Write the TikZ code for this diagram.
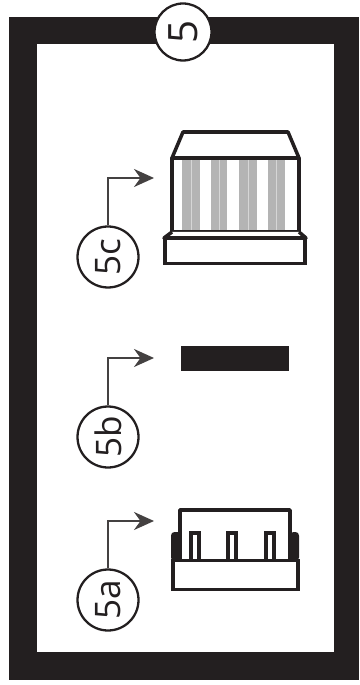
\documentclass[tikz,border=0pt]{standalone}
\usepackage{fontspec}
\setmainfont{Open Sans}
\usepackage{xcolor}
\usetikzlibrary{arrows.meta, positioning}
\definecolor{frameblack}{HTML}{231F20}
\definecolor{ribgray}{HTML}{B4B4B4}

\begin{document}
\begin{tikzpicture}[
  x=0.02cm, y=-0.02cm,
  callout/.style={circle, draw=frameblack, line width=1.3pt, fill=white, minimum size=1.22cm, inner sep=0pt, rotate=90, font=\fontsize{20}{20}\selectfont, text=frameblack},
  leader/.style={draw=frameblack!85, line width=1.2pt, -{Stealth[length=4mm, width=3.6mm]}},
  partline/.style={draw=frameblack, line width=2pt, fill=white, line join=round},
  rib/.style={fill=ribgray, draw=none},
  pin/.style={draw=frameblack, line width=2.1pt, fill=white},
]
\useasboundingbox (0,0) rectangle (359,685);

% Outer frame
\fill[frameblack] (9,17) rectangle (359,680);
\fill[white] (37,44) rectangle (334,652);
\node[callout, minimum size=1.14cm, font=\fontsize{23}{23}\selectfont] (main) at (183,32) {5};

% Part 5c
\draw[partline] (172,158) -- (183,132) -- (288,132) -- (299,158) -- cycle;
\draw[partline] (172,158) rectangle (299,232);
\foreach \x/\w in {182/18,211/16,239/18,268/17} {
  \fill[rib] (\x,160) rectangle (\x+\w,230);
  \draw[white!45!ribgray, line width=0.4pt] (\x+\w/2,160) -- (\x+\w/2,230);
}
\draw[partline] (172,232) -- (164,238) -- (306,238) -- (299,232);
\node[draw=frameblack, line width=2pt, fill=white, minimum width=2.8cm, minimum height=0.5cm, inner sep=0pt] (basec) at (235,251) {};

% Part 5b
\node[fill=frameblack, minimum width=2.16cm, minimum height=0.5cm, inner sep=0pt] (barb) at (235,358.5) {};

% Part 5a
\fill[frameblack, rounded corners=2pt] (171,532) rectangle (181,561);
\fill[frameblack, rounded corners=2pt] (290,532) rectangle (299,561);
\draw[partline] (180,560) -- (180,510) -- (290,510) -- (290,560);
\foreach \x in {195,232,270} {
  \draw[pin] (\x-4,560) -- (\x-4,533) -- (\x+4,533) -- (\x+4,560);
}
\node[draw=frameblack, line width=2pt, fill=white, minimum width=2.5cm, minimum height=0.58cm, inner sep=0pt] (basea) at (235.5,575) {};
\draw[frameblack, line width=2pt] ([shift={(1,-2)}]basea.south west) -- ([shift={(-1,-2)}]basea.south east);

% Callouts
\node[callout] (callc) at (108,257) {5c};
\node[callout] (callb) at (108,437) {5b};
\node[callout] (calla) at (108,600) {5a};
\coordinate (tipc) at (154,178);
\coordinate (tipb) at (154,358);
\coordinate (tipa) at (154,521);

\draw[leader] (callc.east) |- (tipc);
\draw[leader] (callb.east) |- (tipb);
\draw[leader] (calla.east) |- (tipa);

\end{tikzpicture}
\end{document}
